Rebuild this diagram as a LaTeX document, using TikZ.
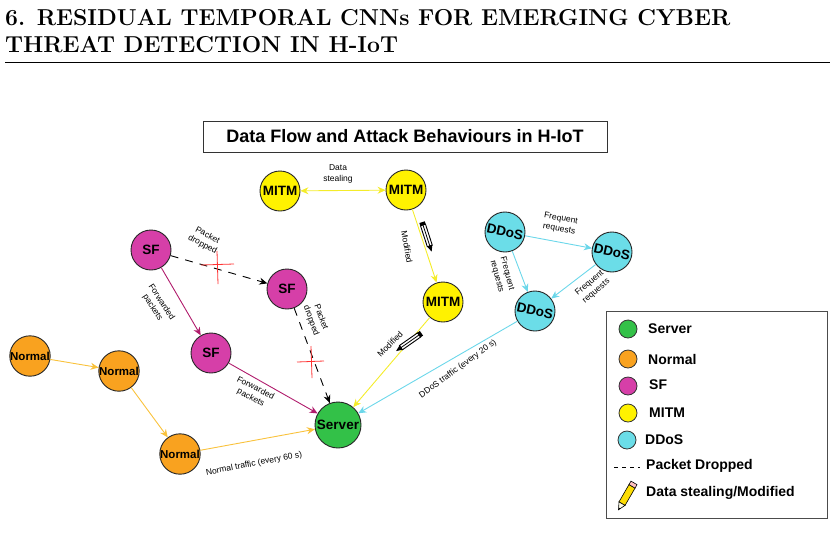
\documentclass[tikz,border=0pt]{standalone}
\usepackage{fontspec}
\setmainfont{Liberation Sans}
\newfontfamily\hdr{Latin Modern Roman}
\usetikzlibrary{arrows.meta}
\definecolor{cserv}{HTML}{33C148}
\definecolor{cnorm}{HTML}{F9A21F}
\definecolor{csf}{HTML}{D63FA8}
\definecolor{cmitm}{HTML}{FFF200}
\definecolor{cddos}{HTML}{6BDDE8}
\definecolor{asf}{HTML}{B01C6C}
\definecolor{anorm}{HTML}{F9C23C}
\definecolor{amitm}{HTML}{F4EC2A}
\definecolor{addos}{HTML}{6BD7EA}
\tikzset{
 nd/.style={circle,draw=black!85,line width=0.9pt,minimum size=40pt,inner sep=0pt,font=\bfseries\fontsize{13.5}{14}\selectfont},
 lab/.style={font=\fontsize{8.5}{10.5}\selectfont,align=center,inner sep=0pt},
 ar/.style={-{Stealth[length=8pt,width=7pt]},line width=0.9pt},
 lg/.style={circle,draw=black!80,line width=0.8pt,minimum size=18pt,inner sep=0pt},
 lgt/.style={anchor=west,font=\bfseries\fontsize{14}{15}\selectfont,inner sep=0pt},
 pencil/.pic={\draw[black,line width=0.9pt,fill=white] (0,-2.6)--(22,-2.6)--(22,2.6)--(0,2.6)--cycle;
   \draw[black,line width=0.8pt] (0,0)--(22,0);
   \fill[black] (22,-2.6)--(28,0)--(22,2.6)--cycle;
   \fill[black] (-3,-2.8) rectangle (0,2.8);}
}
\begin{document}
\begin{tikzpicture}[x=1pt,y=-1pt]
\useasboundingbox (0,0) rectangle (835,547);
% header
\node[anchor=west,font=\hdr\bfseries\fontsize{23}{26}\selectfont,align=left,inner sep=0pt] (h1) at (5,18) {6. RESIDUAL TEMPORAL CNN\lowercase{s} FOR EMERGING CYBER};
\node[anchor=west,font=\hdr\bfseries\fontsize{23}{26}\selectfont,align=left,inner sep=0pt] (h2) at (5,45) {THREAT DETECTION IN H-IoT};
\draw[line width=0.8pt] (5,62)--(830,62);
% title
\node[draw=black!80,line width=1pt,minimum width=404pt,minimum height=31pt,font=\bfseries\fontsize{18}{20}\selectfont] (title) at (405,136.5) {Data Flow and Attack Behaviours in H-IoT};
% nodes
\node[nd,fill=cmitm] (m1) at (280,191) {MITM};
\node[nd,fill=cmitm] (m2) at (406,190) {MITM};
\node[nd,fill=cmitm] (m3) at (443,302) {MITM};
\node[nd,fill=csf] (s1) at (151,250) {SF};
\node[nd,fill=csf] (s2) at (287,289) {SF};
\node[nd,fill=csf] (s3) at (211,353) {SF};
\node[nd,fill=cnorm,font=\bfseries\fontsize{11.5}{12}\selectfont] (n1) at (30,356) {Normal};
\node[nd,fill=cnorm,font=\bfseries\fontsize{11.5}{12}\selectfont] (n2) at (119,371) {Normal};
\node[nd,fill=cnorm,font=\bfseries\fontsize{11.5}{12}\selectfont] (n3) at (180,454) {Normal};
\node[nd,fill=cserv,minimum size=46pt] (sv) at (338,425) {Server};
\node[nd,fill=cddos,rotate=-12] (d1) at (505,232) {DDoS};
\node[nd,fill=cddos,rotate=-12] (d2) at (612,252) {DDoS};
\node[nd,fill=cddos,rotate=-12] (d3) at (535,311) {DDoS};
% arrows
\draw[ar,amitm,{Stealth[length=8pt,width=7pt]}-{Stealth[length=8pt,width=7pt]}] (m1)--(m2);
\draw[ar,amitm] (m2)--(m3);
\draw[ar,amitm] (m3)--(sv);
\draw[ar,asf] (s1)--(s3);
\draw[ar,asf] (s3)--(sv);
\draw[ar,black,dash pattern=on 8pt off 7pt] (s1)--(s2);
\draw[ar,black,dash pattern=on 8pt off 7pt] (s2)--(sv);
\draw[ar,anorm] (n1)--(n2);
\draw[ar,anorm] (n2)--(n3);
\draw[ar,anorm] (n3)--(sv);
\draw[ar,addos] (d1)--(d2);
\draw[ar,addos] (d1)--(d3);
\draw[ar,addos] (d2)--(d3);
\draw[ar,addos] (d3)--(sv);
% red crosses
\draw[red!80,line width=0.8pt] (201,265)--(234,264) (217,251)--(218,284);
\draw[red!80,line width=0.8pt] (297,362)--(324,361) (311,346)--(312,378);
% pencils
\pic[rotate=-72] at (423,225) {pencil};
\pic[rotate=-145] at (419,335) {pencil};
% labels
\node[lab] (l1) at (338,174) {Data\\stealing};
\node[lab,rotate=-28] (l2) at (205,240) {Packet\\dropped};
\node[lab,rotate=-57] (l3) at (157,305) {Forwarded\\packets};
\node[lab,rotate=-70] (l4) at (316,319) {Packet\\dropped};
\node[lab,rotate=-80] (l5) at (407,247) {Modified};
\node[lab,rotate=-27] (l6) at (253,393) {Forwarded\\packets};
\node[lab,rotate=45] (l7) at (390,344) {Modified};
\node[lab,rotate=36] (l8) at (458,369) {DDoS traffic (every 20 s)};
\node[lab,rotate=11] (l9) at (254,464) {Normal traffic (every 60 s)};
\node[lab,rotate=-10] (l10) at (560,224) {Frequent\\requests};
\node[lab,rotate=-75] (l11) at (502,275) {Frequent\\requests};
\node[lab,rotate=40] (l12) at (593,287) {Frequent\\requests};
% legend
\node[draw=black!70,line width=0.9pt,minimum width=221pt,minimum height=207pt] (lgbox) at (716.5,414.5) {};
\node[lg,fill=cserv] (g1) at (628,329) {};
\node[lgt] (t1) at (648,329) {Server};
\node[lg,fill=cnorm] (g2) at (628,359) {};
\node[lgt] (t2) at (648,359) {Normal};
\node[lg,fill=csf] (g3) at (628,386) {};
\node[lgt] (t3) at (649,385) {SF};
\node[lg,fill=cmitm] (g4) at (628,413) {};
\node[lgt] (t4) at (649,413) {MITM};
\node[lg,fill=cddos] (g5) at (627,440) {};
\node[lgt] (t5) at (645,440) {DDoS};
\draw[black,line width=0.9pt,dash pattern=on 4pt off 4pt] (614,467)--(640,467);
\node[lgt] (t6) at (646,466) {Packet Dropped};
\node[lgt] (t7) at (646,493) {Data stealing/Modified};
% legend pencil
\begin{scope}[shift={(627,495)},rotate=60]
\draw[black,line width=0.6pt,fill=yellow!80!orange] (-10,-3.5)--(10,-3.5)--(10,3.5)--(-10,3.5)--cycle;
\draw[black,line width=0.6pt,fill=pink] (10,-3.5) rectangle (14,3.5);
\draw[black,line width=0.6pt,fill=white!90!yellow] (-10,-3.5)--(-17,0)--(-10,3.5)--cycle;
\fill[black] (-15,-1)--(-17,0)--(-15,1)--cycle;
\end{scope}
\end{tikzpicture}
\end{document}
